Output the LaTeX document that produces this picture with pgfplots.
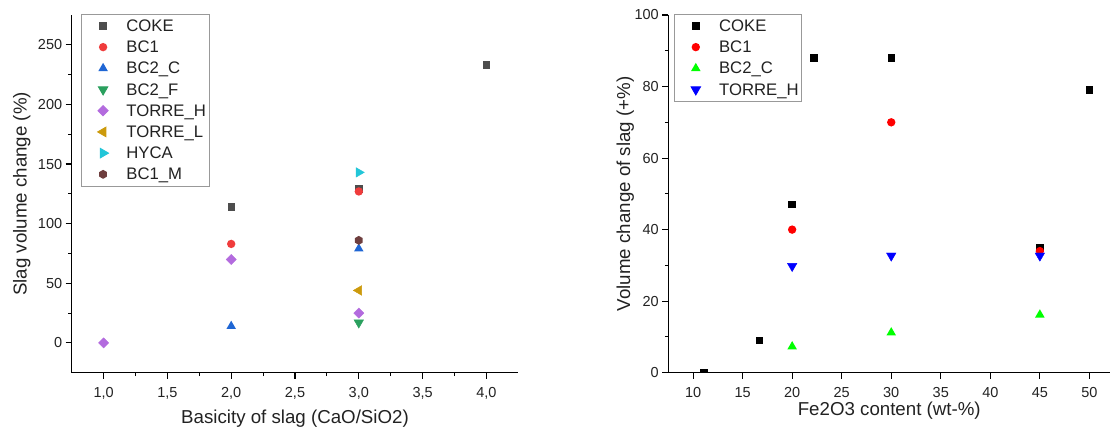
\documentclass[border=0pt]{standalone}
\usepackage{fontspec}
\setmainfont{Liberation Sans}
\usepackage{pgfplots}
\pgfplotsset{compat=1.18}

% series colours
\definecolor{cCoke}{HTML}{4D4D4D}
\definecolor{cBCone}{HTML}{F03C3C}
\definecolor{cBCtwoC}{HTML}{1F66D4}
\definecolor{cBCtwoF}{HTML}{2AA05E}
\definecolor{cTorreH}{HTML}{B36BDE}
\definecolor{cTorreL}{HTML}{CC9A0C}
\definecolor{cHyca}{HTML}{22C6D8}
\definecolor{cBConeM}{HTML}{6E3E3E}
\definecolor{txt}{HTML}{222222}

% filled hexagon marker
\pgfdeclareplotmark{hexagon*}{%
  \pgfpathmoveto{\pgfpointpolar{90}{\pgfplotmarksize}}%
  \pgfpathlineto{\pgfpointpolar{150}{\pgfplotmarksize}}%
  \pgfpathlineto{\pgfpointpolar{210}{\pgfplotmarksize}}%
  \pgfpathlineto{\pgfpointpolar{270}{\pgfplotmarksize}}%
  \pgfpathlineto{\pgfpointpolar{330}{\pgfplotmarksize}}%
  \pgfpathlineto{\pgfpointpolar{30}{\pgfplotmarksize}}%
  \pgfpathclose\pgfusepathqfillstroke}

\pgfplotsset{
  slagaxis/.style={
    scale only axis, height=357.7pt,
    axis x line*=bottom, axis y line*=left,
    axis line style={line width=1.1pt, black},
    tick align=outside, major tick length=6pt, minor tick length=3.5pt,
    every tick/.style={black, line width=1.1pt},
    tick label style={font=\fontsize{14.5}{17}\selectfont, text=txt},
    xticklabel style={yshift=-5.5pt},
    label style={font=\fontsize{18.7}{22}\selectfont, text=txt},
    /pgf/number format/assume math mode=true,
    legend cell align=left,
    legend image code/.code={%
      \path[draw=none, fill=none] (0pt,0pt) -- (41.7pt,0pt);
      \draw[##1, only marks] plot coordinates {(20.4pt,0pt)};},
    legend style={draw=black!40, line width=0.8pt, inner sep=1pt,
      row sep=0pt, column sep=0pt, anchor=north west,
      font=\fontsize{16.7}{19}\selectfont, text=txt,
      nodes={inner xsep=2pt, inner ysep=0pt, text height=16.2pt, text depth=5pt}},
    every axis plot/.append style={only marks, mark options={solid, draw opacity=0}},
  }
}

\begin{document}
\begin{tikzpicture}
\useasboundingbox (0pt,0pt) rectangle (1110pt,434pt);

% ---- slag volume change vs basicity ----
\begin{axis}[slagaxis,
  at={(71.7pt,61.3pt)}, anchor=south west,
  width=446.6pt,
  xmin=0.75, xmax=4.25, ymin=-25, ymax=275,
  xtick={1,1.5,...,4}, minor x tick num=1,
  ytick={0,50,...,250}, minor y tick num=1,
  xticklabel style={/pgf/number format/.cd, fixed, fixed zerofill, precision=1, use comma},
  xlabel={Basicity of slag (CaO/SiO2)},
  ylabel={Slag volume change (\%)},
  xlabel style={at={(axis description cs:0.5,-0.1296)}, anchor=center},
  ylabel style={at={(axis description cs:-0.112,0.5)}, anchor=center},
  legend style={at={(axis description cs:0.0215,1.003)}},
]
\addplot[mark=square*, mark size=3.7pt, color=cCoke]
  coordinates {(2,114) (3,129) (4,233)};
\addlegendentry{COKE}
\addplot[mark=*, mark size=4.2pt, color=cBCone]
  coordinates {(2,83) (3,127)};
\addlegendentry{BC1}
\addplot[mark=triangle*, mark size=5.5pt, color=cBCtwoC]
  coordinates {(2,14) (3,79)};
\addlegendentry{BC2\_C}
\addplot[mark=triangle*, mark size=5.5pt, color=cBCtwoF, mark options={rotate=180}]
  coordinates {(3,17)};
\addlegendentry{BC2\_F}
\addplot[mark=square*, mark size=3.6pt, color=cTorreH, mark options={rotate=45}]
  coordinates {(1,0) (2,70) (3,25)};
\addlegendentry{TORRE\_H}
\addplot[mark=triangle*, mark size=5.5pt, color=cTorreL, mark options={rotate=90}]
  coordinates {(3,44)};
\addlegendentry{TORRE\_L}
\addplot[mark=triangle*, mark size=5.5pt, color=cHyca, mark options={rotate=-90}]
  coordinates {(3,143)};
\addlegendentry{HYCA}
\addplot[mark=hexagon*, mark size=4.5pt, color=cBConeM]
  coordinates {(3,86)};
\addlegendentry{BC1\_M}
\end{axis}

% ---- volume change vs Fe2O3 content ----
\begin{axis}[slagaxis,
  at={(668.3pt,61.3pt)}, anchor=south west,
  width=441.9pt,
  xmin=7.5, xmax=52.1, ymin=0, ymax=100,
  clip marker paths=true,
  xtick={10,15,...,50},
  ytick={0,20,...,100}, minor y tick num=1,
  xlabel={Fe2O3 content (wt-\%)},
  ylabel={Volume change of slag (+\%)},
  xlabel style={at={(axis description cs:0.5,-0.106)}, anchor=center},
  ylabel style={at={(axis description cs:-0.0973,0.5)}, anchor=center},
  legend style={at={(axis description cs:0.0129,1.003)}},
]
\addplot[mark=square*, mark size=3.7pt, color=black]
  coordinates {(11.1,0) (16.7,9) (20,47) (22.2,88) (30,88) (45,35) (50,79)};
\addlegendentry{COKE}
\addplot[mark=*, mark size=4.2pt, color=red]
  coordinates {(20,40) (30,70) (45,34)};
\addlegendentry{BC1}
\addplot[mark=triangle*, mark size=5.5pt, color=green]
  coordinates {(20,7.3) (30,11.2) (45,16.2)};
\addlegendentry{BC2\_C}
\addplot[mark=triangle*, mark size=5.5pt, color=blue, mark options={rotate=180}]
  coordinates {(20,29.8) (30,32.7) (45,32.7)};
\addlegendentry{TORRE\_H}
\end{axis}
\end{tikzpicture}
\end{document}
